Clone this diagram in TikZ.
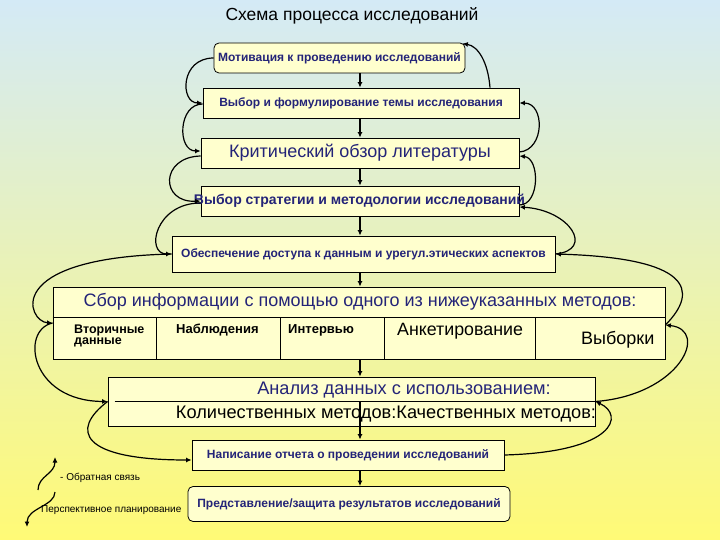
\documentclass[tikz,border=0pt]{standalone}
\usepackage{fontspec}
\setmainfont{Liberation Sans}
\usetikzlibrary{arrows.meta,calc}
\definecolor{boxfill}{RGB}{255,255,206}
\definecolor{navy}{RGB}{36,36,120}
\definecolor{bgtop}{RGB}{212,234,246}
\definecolor{bgmid}{RGB}{240,245,196}
\definecolor{bgbot}{RGB}{255,250,118}
\newcommand\fsz[1]{\fontsize{#1}{#1}\selectfont}
\begin{document}
\begin{tikzpicture}[x=1pt,y=-1pt,
  box/.style={draw=black,line width=0.8pt,fill=boxfill,inner sep=0pt},
  flow/.style={line width=1.3pt,-{Latex[length=5.5pt,width=5pt]}},
  curv/.style={line width=1.2pt,-{Latex[length=5.5pt,width=5pt]}},
  bt/.style={text=navy,font=\bfseries},
  rt/.style={text=navy},
  kt/.style={text=black,inner sep=0pt},
]
\shade[top color=bgtop,middle color=bgmid,bottom color=bgbot] (0,0) rectangle (720,540);
\useasboundingbox (0,0) rectangle (720,540);

\node[text=black] (title) at (352,16) {\fsz{17.5}Схема процесса исследований};

% boxes
\node[box,rounded corners=5pt,minimum width=251,minimum height=30] (b1) at (339.5,58)
  {\color{navy}\bfseries\fsz{12}Мотивация к проведению исследований};
\node[box,minimum width=316,minimum height=30] (b2) at (361,103)
  {\color{navy}\bfseries\fsz{12}Выбор и формулирование темы исследования};
\node[box,minimum width=318,minimum height=30] (b3) at (360,153)
  {\color{navy}\fsz{18}Критический обзор литературы};
\node[box,minimum width=318,minimum height=30] (b4) at (360,201) {};
\node[bt,inner sep=0pt] (b4t) at (359.5,201) {\fsz{14}Выбор стратегии и методологии исследований};
\node[box,minimum width=383,minimum height=36] (b5) at (363.5,254)
  {\color{navy}\bfseries\fsz{12}Обеспечение доступа к данным и урегул.этических аспектов};

% table
\node[box,minimum width=612,minimum height=72] (sbor) at (359,323) {};
\draw[line width=0.8pt] ($(sbor.north west)+(0,31)$) -- ($(sbor.north east)+(0,31)$);
\foreach \dx in {104,228,332,483}
  \draw[line width=0.8pt] ($(sbor.south west)+(\dx,0)$) -- ++(0,-41);
\node[rt,inner sep=0pt] (s0) at (360,302) {\fsz{18}Сбор информации с помощью одного из нижеуказанных методов:};
\node[kt,anchor=west,align=left,font=\bfseries\fsz{12.5}] (s1) at (74,336) {Вторичные\\[-1.5pt]данные};
\node[kt,anchor=west,font=\bfseries\fsz{13}] (s2) at (176,330) {Наблюдения};
\node[kt,anchor=west,font=\bfseries\fsz{13}] (s3) at (288,330) {Интервью};
\node[kt,anchor=west,font=\fsz{17.8}] (s4) at (397,331) {Анкетирование};
\node[kt,anchor=west,font=\fsz{18}] (s5) at (581,340) {Выборки};

% analysis
\node[box,minimum width=487,minimum height=49] (an) at (351.5,401.5) {};
\draw[line width=0.8pt] ($(an.west)+(7,0)$) -- (an.east);
\node[rt,inner sep=0pt] (a1) at (404,390) {\fsz{18.2}Анализ данных с использованием:};
\node[kt] (a2) at (386,414) {\fsz{18.2}Количественных методов:Качественных методов:};

\node[box,minimum width=312,minimum height=30] (nap) at (348,455)
  {\color{navy}\bfseries\fsz{12}Написание отчета о проведении исследований};
\node[box,rounded corners=5pt,minimum width=322,minimum height=35] (pred) at (349,504)
  {\color{navy}\bfseries\fsz{12}Представление/защита результатов исследований};

% vertical flow
\coordinate (ax) at (360,0);
\draw[flow] (b1.south -| ax) -- (b2.north -| ax);
\draw[flow] (b2.south -| ax) -- (b3.north -| ax);
\draw[flow] (b3.south -| ax) -- (b4.north -| ax);
\draw[flow] (b4.south -| ax) -- (b5.north -| ax);
\draw[flow] (b5.south -| ax) -- (sbor.north -| ax);
\draw[flow] (sbor.south -| ax) -- (an.north -| ax);
\draw[flow] (an.center -| ax) -- (nap.north -| ax);
\draw[flow] (nap.south -| ax) -- (pred.north -| ax);

% left curves (planning)
\draw[curv] (b1.west) .. controls (180,58) and (180,103) .. (b2.west);
\draw[curv] ($(b2.west)+(0,1)$) .. controls (178,104) and (177,151) .. ($(b3.west)+(0,-2)$);
\draw[curv] ($(b3.west)+(0,3)$) .. controls (160,157) and (160,203) .. (b4.west);
\draw[curv] ($(b4.west)+(0,2)$) .. controls (155,203) and (145,254) .. (b5.west);
\draw[curv] (b5.west) .. controls (0,258) and (28,322) .. (sbor.west);
\draw[curv] (sbor.west) .. controls (20,330) and (30,401) .. (an.west);
\draw[curv] (an.west) .. controls (70,430) and (80,460) .. ($(nap.west)+(0,5)$);

% right curves (feedback)
\draw[curv] ($(b2.north)+(129,0)$) .. controls (488,62) and (478,46) .. ($(b1.north east)+(-3,1)$);
\draw[curv] ($(b3.east)+(0,-1)$) .. controls (545,150) and (545,103) .. (b2.east);
\draw[curv] ($(b4.east)+(0,4)$) .. controls (540,205) and (540,158) .. ($(b3.east)+(0,3)$);
\draw[curv] (b5.east) .. controls (595,250) and (570,210) .. ($(b4.east)+(0,6)$);
\draw[curv] ($(sbor.east)+(0,2)$) .. controls (700,290) and (690,258) .. (b5.east);
\draw[curv] (an.east) .. controls (680,395) and (710,330) .. ($(sbor.east)+(0,2)$);
\draw[curv] (nap.east) .. controls (615,452) and (625,415) .. (an.east);

% legend
\coordinate (fbA) at (38,490);
\coordinate (fbB) at (55,457);
\draw[curv] (fbA) .. controls (38,476) and (55,474) .. (fbB);
\node[kt,anchor=west] (fbT) at (60,478) {\fsz{10}- Обратная связь};
\coordinate (ppA) at (55,492);
\coordinate (ppB) at (27,527);
\draw[curv] (ppA) .. controls (55,506) and (27,508) .. (ppB);
\node[kt,anchor=west] (ppT) at (41,510) {\fsz{10}Перспективное планирование};
\end{tikzpicture}
\end{document}
